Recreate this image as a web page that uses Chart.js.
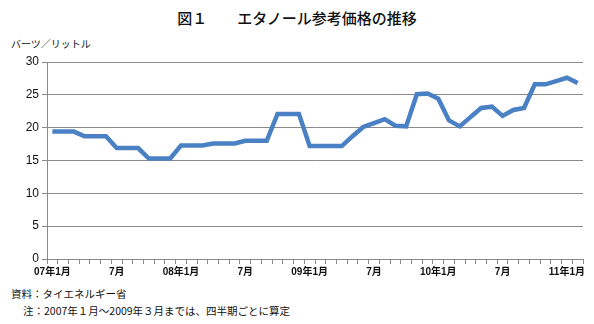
<!DOCTYPE html>
<html>
<head>
<meta charset="utf-8">
<script src="https://cdn.jsdelivr.net/npm/chart.js@4"></script>
<style>
  body { margin: 0; background: #fff; font-family: "Liberation Sans", "Noto Sans CJK JP", sans-serif; color: #111; }
  #wrap { position: relative; width: 594px; height: 324px; overflow: hidden; }
  .txt { position: absolute; white-space: nowrap; }
  #title { top: 7px; left: 0; width: 594px; text-align: center; font-size: 15px; font-family: "Noto Sans CJK JP", sans-serif; font-weight: 500; }
  #unit { top: 36px; left: 11px; font-size: 10px; font-family: "Noto Sans CJK JP", sans-serif; }
  #src { top: 286px; left: 11px; font-size: 10.5px; font-family: "Noto Sans CJK JP", sans-serif; }
  #note { top: 303px; left: 23px; font-size: 10.5px; font-family: "Noto Sans CJK JP", sans-serif; }
  #box { position: absolute; left: 0; top: 50px; width: 594px; height: 235px; }
</style>
</head>
<body>
<div id="wrap">
  <div class="txt" id="title">図１　　エタノール参考価格の推移</div>
  <div class="txt" id="unit">バーツ／リットル</div>
  <div id="box"><canvas id="chart"></canvas></div>
  <div class="txt" id="src">資料：タイエネルギー省</div>
  <div class="txt" id="note">注：2007年１月～2009年３月までは、四半期ごとに算定</div>
</div>
<script>
// months 07/1 .. 11/2
const months = [
  "07/1", "07/2", "07/3", "07/4", "07/5", "07/6", "07/7", "07/8", "07/9", "07/10", "07/11", "07/12",
  "08/1", "08/2", "08/3", "08/4", "08/5", "08/6", "08/7", "08/8", "08/9", "08/10", "08/11", "08/12",
  "09/1", "09/2", "09/3", "09/4", "09/5", "09/6", "09/7", "09/8", "09/9", "09/10", "09/11", "09/12",
  "10/1", "10/2", "10/3", "10/4", "10/5", "10/6", "10/7", "10/8", "10/9", "10/10", "10/11", "10/12",
  "11/1", "11/2",
];

// baht per litre
const prices = [
  19.4, 19.4, 19.4, 18.7, 18.7, 18.7, 16.9, 16.9, 16.9, 15.3, 15.3, 15.3,
  17.3, 17.3, 17.3, 17.6, 17.6, 17.6, 18.0, 18.0, 18.0, 22.1, 22.1, 22.1,
  17.2, 17.2, 17.2, 17.2, 18.7, 20.1, 20.7, 21.3, 20.3, 20.2, 25.1, 25.2,
  24.4, 21.1, 20.2, 21.6, 23.0, 23.2, 21.8, 22.7, 23.0, 26.6, 26.6, 27.1,
  27.6, 26.8,
];

// tick labels shown on the x axis (by month index)
const tickLabels = {
  0: "07年1月", 6: "7月", 12: "08年1月", 18: "7月", 24: "09年1月",
  30: "7月", 36: "10年1月", 42: "7月", 48: "11年1月",
};

const yTicks = [0, 5, 10, 15, 20, 25, 30];

const gridColor = "#8a8a8a";

new Chart(document.getElementById("chart"), {
  type: "line",
  data: {
    labels: months,
    datasets: [
      {
        data: prices,
        borderColor: "#4a80c4",
        borderWidth: 4.5,
        pointRadius: 0,
        tension: 0,
        fill: false,
      },
    ],
  },
  options: {
    responsive: true,
    maintainAspectRatio: false,
    animation: false,
    layout: { padding: { top: 12, right: 11, left: 0, bottom: 0 } },
    plugins: { legend: { display: false }, tooltip: { enabled: false } },
    scales: {
      x: {
        offset: true,
        grid: {
          offset: true,
          drawOnChartArea: false,
          drawTicks: true,
          tickLength: 5,
          color: gridColor,
        },
        border: { color: gridColor },
        ticks: {
          autoSkip: false,
          maxRotation: 0,
          padding: 2,
          color: "#111",
          font: { size: 10, weight: "bold", family: "'Liberation Sans', 'Noto Sans CJK JP'" },
          callback: (v, i) => tickLabels[i] || "",
        },
        afterFit: (s) => { s.height = 26; },
      },
      y: {
        min: 0,
        max: 30,
        afterBuildTicks: (s) => { s.ticks = yTicks.map((v) => ({ value: v })); },
        grid: { color: gridColor, tickLength: 5 },
        border: { color: gridColor },
        ticks: {
          padding: 3,
          color: "#111",
          font: { size: 12, family: "'Liberation Sans', 'Noto Sans CJK JP'" },
        },
        afterFit: (s) => { s.width = 47; },
      },
    },
  },
});
</script>
</body>
</html>
